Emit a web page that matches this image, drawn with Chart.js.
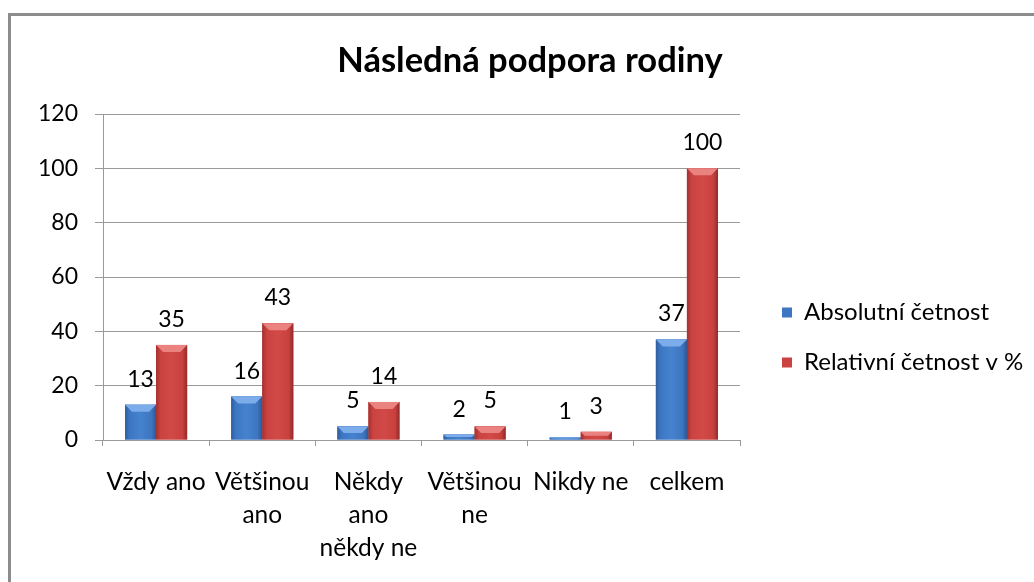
<!DOCTYPE html>
<html><head><meta charset="utf-8">
<script src="https://cdn.jsdelivr.net/npm/chart.js@4/dist/chart.umd.min.js"></script>
<style>html,body{margin:0;padding:0;background:#fff;overflow:hidden}#wrap{width:1034px;height:582px;position:relative}</style>
</head><body><div id="wrap"><canvas id="c" width="1034" height="582"></canvas></div>
<script>
const chartTitle = "Následná podpora rodiny";
const categories = [["Vždy ano"], ["Většinou", "ano"], ["Někdy", "ano", "někdy ne"], ["Většinou", "ne"], ["Nikdy ne"], ["celkem"]];
const seriesNames = ["Absolutní četnost", "Relativní četnost v %"];
const absolutni = [13, 16, 5, 2, 1, 37];
const relativni = [35, 43, 14, 5, 3, 100];
const yTicks = [0, 20, 40, 60, 80, 100, 120];

const FONT = "Lato";
const NUM_FS = 23;   // numbers (ticks, value labels)
const TXT_FS = 24.5; // category labels
const LEG_FS = 24;   // legend
const GRID = "#9a9a9a";

const mctx = document.createElement("canvas").getContext("2d");
mctx.font = LEG_FS + "px " + FONT;
const textW = Math.max(...seriesNames.map(s => mctx.measureText(s).width));
const LP = 26, BOXW = 10;
const legendW = LP + BOXW + LEG_FS / 2 + textW + 10;
const outerGap = Math.max(0, 1034 - 756 - legendW);

const frame = {
  id: "frame",
  beforeDraw(chart) {
    const c = chart.ctx;
    c.save();
    c.fillStyle = "#fff";
    c.fillRect(0, 0, chart.width, chart.height);
    c.fillStyle = "#8c8c8c";
    c.fillRect(8, 13, 3, chart.height);
    c.fillRect(8, 13, chart.width, 3);
    c.restore();
  }
};

const grads = [
  ["#2e5e9e", "#3d77c4", "#4682ce", "#3d75c0", "#2b5895"],
  ["#a13130", "#cb4340", "#d24a47", "#c8413e", "#922b29"]
];
const bevel = ["#7cacea", "#ea8380"];

const barStyle = {
  id: "barStyle",
  afterDatasetsDraw(chart) {
    const c = chart.ctx;
    c.save();
    chart.data.datasets.forEach((ds, di) => {
      chart.getDatasetMeta(di).data.forEach(el => {
        const w = el.width, l = el.x - w / 2, r = l + w, t = el.y, b = el.base;
        const g = c.createLinearGradient(l, 0, r, 0);
        [0, 0.15, 0.5, 0.85, 1].forEach((p, k) => g.addColorStop(p, grads[di][k]));
        c.fillStyle = g;
        c.fillRect(l, t, w, b - t);
        const h = Math.min(7, (b - t) / 2);
        c.fillStyle = bevel[di];
        c.beginPath();
        c.moveTo(l, t); c.lineTo(r, t); c.lineTo(r - h, t + h); c.lineTo(l + h, t + h); c.closePath();
        c.fill();
      });
    });
    c.restore();
  }
};

const valueLabels = {
  id: "valueLabels",
  afterDatasetsDraw(chart) {
    const c = chart.ctx;
    c.save();
    c.font = NUM_FS + "px " + FONT;
    c.fillStyle = "#000";
    c.textAlign = "center";
    c.textBaseline = "alphabetic";
    chart.data.datasets.forEach((ds, di) => {
      chart.getDatasetMeta(di).data.forEach((el, i) => {
        c.fillText(String(ds.data[i]), el.x, el.y - 18);
      });
    });
    c.restore();
  }
};

const spacer = (w, weight) => ({
  position: "right", display: true, weight: weight,
  grid: { display: false, drawTicks: false }, border: { display: false },
  ticks: { display: false },
  afterFit(s) { s.width = w; }
});

new Chart(document.getElementById("c"), {
  type: "bar",
  data: {
    labels: categories,
    datasets: [
      { label: seriesNames[0], data: absolutni, backgroundColor: "#3d77c4", borderWidth: 0 },
      { label: seriesNames[1], data: relativni, backgroundColor: "#cb4340", borderWidth: 0 }
    ]
  },
  options: {
    responsive: false,
    animation: false,
    devicePixelRatio: 1,
    layout: { padding: { left: 26, right: 0, top: 0, bottom: 0 } },
    datasets: { bar: { barPercentage: 1, categoryPercentage: 0.585 } },
    plugins: {
      tooltip: { enabled: false },
      title: {
        display: true, text: chartTitle, color: "#000",
        font: { family: FONT, size: 34.5, weight: "bold", lineHeight: 1.2 },
        padding: { top: 40, bottom: 32.6 }
      },
      legend: {
        display: true, position: "right", align: "center", maxWidth: 400,
        title: { display: true, text: "", font: { family: FONT, size: 10, lineHeight: "93px" }, padding: 0 },
        labels: {
          color: "#000", boxWidth: BOXW, boxHeight: BOXW, padding: LP,
          font: { family: FONT, size: LEG_FS }
        }
      }
    },
    scales: {
      x: {
        offset: true,
        grid: { display: true, drawOnChartArea: false, drawTicks: true, tickLength: 6, color: GRID, offset: true },
        border: { display: true, color: GRID },
        ticks: { color: "#000", font: { family: FONT, size: TXT_FS, lineHeight: "33px" }, padding: 19.5, maxRotation: 0, minRotation: 0, autoSkip: false },
        afterFit(s) { s.height = 142; }
      },
      y: {
        min: 0, max: 120,
        grid: { color: GRID, tickLength: 8, drawTicks: true },
        border: { display: true, color: GRID },
        ticks: { color: "#000", font: { family: FONT, size: NUM_FS }, padding: 17, stepSize: 20 },
        afterBuildTicks(s) { s.ticks = yTicks.map(v => ({ value: v })); },
        afterFit(s) { s.width = 77; }
      },
      gapInner: spacer(16, 0),
      gapOuter: spacer(outerGap, 2000)
    }
  },
  plugins: [frame, barStyle, valueLabels]
});
</script>
</body></html>
